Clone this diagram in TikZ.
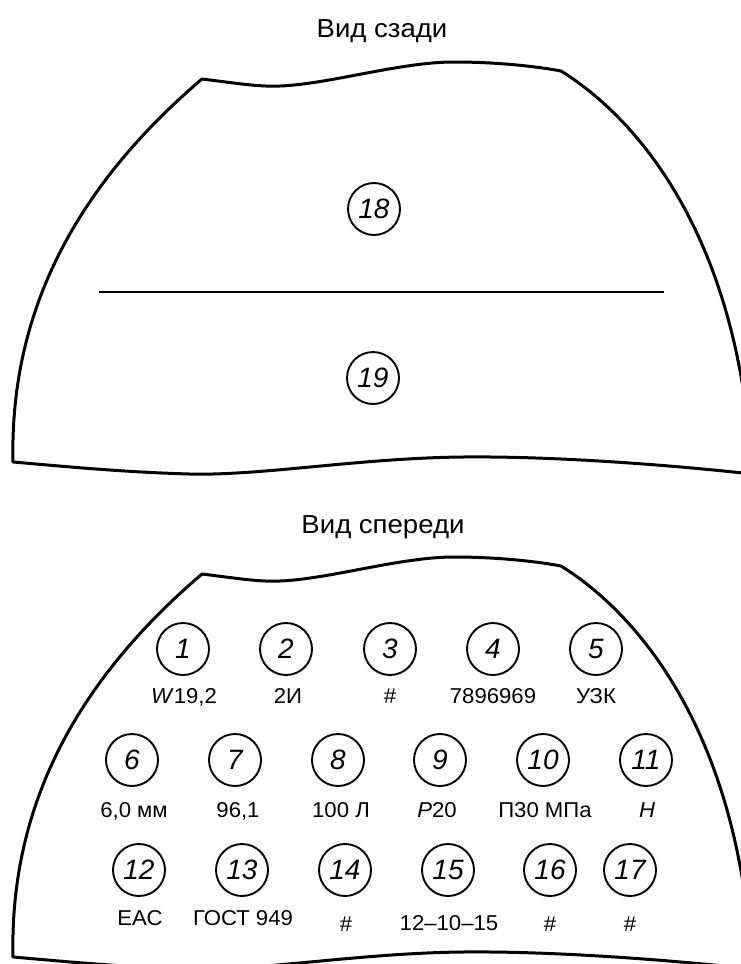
\documentclass[tikz,border=0pt]{standalone}
\usepackage{fontspec}
\setmainfont{Liberation Sans}
\newfontfamily\titlefont[FakeStretch=1.06]{Liberation Sans}
\newfontfamily\labfont[FakeStretch=1.03]{Liberation Sans}
\begin{document}
\begin{tikzpicture}[x=1pt,y=-1pt,
  outline/.style={line width=3pt, line join=round},
  num/.style={circle, draw, line width=1.9pt, minimum size=52pt, inner sep=0pt,
    font=\fontsize{28}{28}\selectfont\itshape},
  lab/.style={anchor=base, inner sep=0pt, font=\labfont\fontsize{21.5}{21.5}\selectfont},
  ttl/.style={anchor=base, inner sep=0pt, font=\titlefont\fontsize{26}{26}\selectfont},
  hatshape/.pic={
    \draw[outline] (202,79) .. controls (235,83) and (258,87) .. (280,86)
      .. controls (330,84) and (400,62) .. (454,62)
      .. controls (500,62) and (540,67) .. (561,71)
      .. controls (640,120) and (740,240) .. (752,474)
      .. controls (680,466) and (560,456) .. (463,457)
      .. controls (360,458) and (260,476) .. (189,474)
      .. controls (120,472) and (60,466) .. (13,462)
      .. controls (10,330) and (60,200) .. (202,79) -- cycle;
  }
]
\useasboundingbox (0,0) rectangle (741,964);
\clip (0,0) rectangle (741,964);

% ---- rear view ----
\node[ttl] (t1) at (382,37) {Вид сзади};
\pic at (0,0) {hatshape};
\coordinate (hl) at (99,292);
\coordinate (hr) at (664,292);
\draw[line width=2.2pt] (hl) -- (hr);
\node[num] (c18) at (374,209) {18};
\node[num] (c19) at (373,378) {19};

% ---- front view ----
\node[ttl] (t2) at (383,533) {Вид спереди};
\pic at (0,495) {hatshape};

\node[num] (c1) at (183,649) {1};
\node[num] (c2) at (286,649) {2};
\node[num] (c3) at (390,649) {3};
\node[num] (c4) at (493,649) {4};
\node[num] (c5) at (596,649) {5};

\node[lab] (l1) at (184,703) {\textit{W}19,2};
\node[lab] (l2) at (288,703) {2И};
\node[lab] (l3) at (390,703) {\#};
\node[lab] (l4) at (493,703) {7896969};
\node[lab] (l5) at (596,703) {УЗК};

\node[num] (c6) at (132,760) {6};
\node[num] (c7) at (235,760) {7};
\node[num] (c8) at (338,760) {8};
\node[num] (c9) at (440,760) {9};
\node[num] (c10) at (543,760) {10};
\node[num] (c11) at (646,760) {11};

\node[lab] (l6) at (134,817) {6,0 мм};
\node[lab] (l7) at (238,817) {96,1};
\node[lab] (l8) at (341,817) {100 Л};
\node[lab] (l9) at (437,817) {\textit{Р}20};
\node[lab] (l10) at (545,817) {П30 МПа};
\node[lab] (l11) at (647,817) {\textit{H}};

\node[num] (c12) at (139,870) {12};
\node[num] (c13) at (242,870) {13};
\node[num] (c14) at (345,870) {14};
\node[num] (c15) at (448,870) {15};
\node[num] (c16) at (550,870) {16};
\node[num] (c17) at (630,870) {17};

\node[lab] (l12) at (140,925) {ЕАС};
\node[lab] (l13) at (243,925) {ГОСТ 949};
\node[lab] (l14) at (346,931) {\#};
\node[lab] (l15) at (449,930) {12–10–15};
\node[lab] (l16) at (550,931) {\#};
\node[lab] (l17) at (630,931) {\#};
\end{tikzpicture}
\end{document}
